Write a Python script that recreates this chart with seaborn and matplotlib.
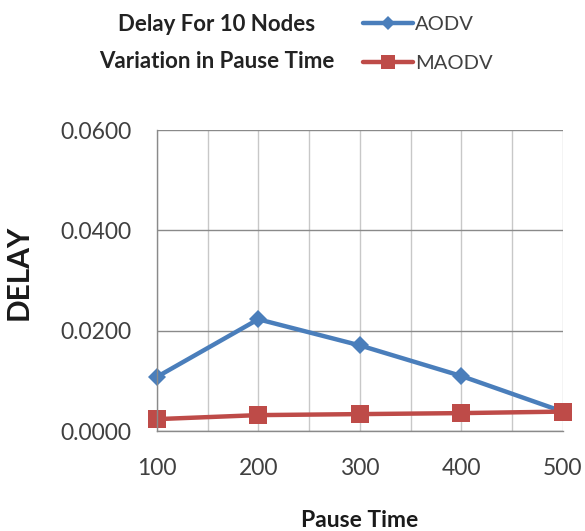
import matplotlib
matplotlib.use("Agg")
import matplotlib.pyplot as plt
import seaborn as sns
import pandas as pd
from matplotlib.ticker import MultipleLocator, FuncFormatter
from matplotlib.lines import Line2D

pause_time = [100, 200, 300, 400, 500]
aodv = [0.0108, 0.0223, 0.0171, 0.0110, 0.0039]
maodv = [0.0024, 0.0032, 0.0034, 0.0036, 0.0039]
y_ticks = [0.0, 0.02, 0.04, 0.06]

df = pd.DataFrame({
    "Pause Time": pause_time * 2,
    "DELAY": aodv + maodv,
    "Protocol": ["AODV"] * 5 + ["MAODV"] * 5,
})

sns.set_style("white")
plt.rcParams["font.family"] = ["Lato", "DejaVu Sans"]

fig = plt.figure(figsize=(5.85, 5.31), dpi=100)
ax = fig.add_axes([0.268, 0.188, 0.694, 0.567])

palette = {"AODV": "#4A7EBB", "MAODV": "#BE4B48"}
sns.lineplot(data=df, x="Pause Time", y="DELAY", hue="Protocol", style="Protocol",
             markers={"AODV": "D", "MAODV": "s"}, dashes=False, palette=palette,
             linewidth=3.2, ax=ax, legend=False, clip_on=False)
for line, ms in zip(ax.lines, [9.5, 12.5]):
    line.set_markersize(ms)
    line.set_markeredgewidth(0)
    line.set_clip_on(False)

ax.set_xlim(100, 500)
ax.set_ylim(0, 0.06)
ax.set_xticks(pause_time)
ax.xaxis.set_minor_locator(MultipleLocator(50))
ax.set_yticks(y_ticks)
ax.yaxis.set_major_formatter(FuncFormatter(lambda v, p: f"{v:.4f}"))
ax.grid(axis="x", which="both", color="#C8C8C8", linewidth=1.0)
ax.grid(axis="y", which="major", color="#8A8A8A", linewidth=1.0)
ax.set_axisbelow(True)
for s in ["top", "right"]:
    ax.spines[s].set_visible(False)
for s in ["left", "bottom"]:
    ax.spines[s].set_color("#8A8A8A")
    ax.spines[s].set_linewidth(1.0)
ax.tick_params(axis="both", which="major", direction="out", colors="#8A8A8A",
               labelcolor="#404040", labelsize=16.5, width=1)
ax.tick_params(axis="x", which="minor", length=0)
ax.tick_params(axis="x", which="major", pad=13, length=6)
ax.tick_params(axis="y", which="major", pad=11, length=7)

ax.set_xlabel("Pause Time", fontsize=16.5, fontweight="bold", color="#1a1a1a")
ax.xaxis.set_label_coords(0.5, -0.262)
ax.set_ylabel("DELAY", fontsize=21.5, fontweight="bold", color="#1a1a1a")
ax.yaxis.set_label_coords(-0.305, 0.528)

fig.text(0.371, 0.954, "Delay For 10 Nodes", ha="center", va="center",
         fontsize=16, fontweight="bold", color="#222222")
fig.text(0.371, 0.885, "Variation in Pause Time", ha="center", va="center",
         fontsize=16, fontweight="bold", color="#222222")

handles = [Line2D([], [], color=palette["AODV"], marker="D", markersize=7.5, linewidth=3.2, markeredgewidth=0),
           Line2D([], [], color=palette["MAODV"], marker="s", markersize=10.5, linewidth=3.2, markeredgewidth=0)]
leg = fig.legend(handles, ["AODV", "MAODV"], loc="upper left", bbox_to_anchor=(0.590, 1.005),
                 frameon=False, fontsize=14.5, handlelength=2.45, handletextpad=0.1,
                 labelspacing=1.1, labelcolor="#404040")

fig.savefig("out.png", dpi=100)
